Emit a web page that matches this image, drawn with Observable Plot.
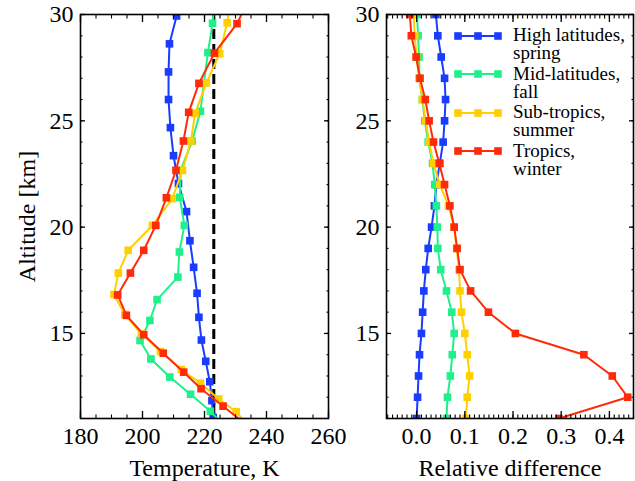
<!DOCTYPE html>
<html><head><meta charset="utf-8">
<script src="https://cdn.jsdelivr.net/npm/d3@7"></script>
<script src="https://cdn.jsdelivr.net/npm/@observablehq/plot@0.6"></script>
<style>
body{margin:0;background:#fff;}
#wrap{position:relative;width:635px;height:481px;font-family:"Liberation Serif","Times New Roman",serif;overflow:hidden;}
#left{position:absolute;left:0;top:0;}
#right{position:absolute;left:335px;top:0;}
#legend{position:absolute;left:454px;top:26px;}
.row{position:relative;height:38.5px;width:180px;}
.row svg{position:absolute;left:0;top:3.5px;}
.row .lab{position:absolute;left:59px;top:0;font-size:19px;line-height:18px;white-space:nowrap;color:#000;}
</style></head>
<body><div id="wrap"><div id="left"></div><div id="right"></div><div id="legend"></div></div>
<script>
// ---- series meta ----
const seriesNames = ["High latitudes, spring", "Mid-latitudes, fall", "Sub-tropics, summer", "Tropics, winter"];
const legendLine1 = ["High latitudes,", "Mid-latitudes,", "Sub-tropics,", "Tropics,"];
const legendLine2 = ["spring", "fall", "summer", "winter"];
const seriesColors = ["#1a3cff", "#1ff08c", "#ffcf00", "#ff2a0a"];

// ---- left panel: temperature profiles (altitude km, temperature K) ----
const altHigh = [31.2, 29.93, 28.62, 27.30, 26.0, 24.68, 23.36, 22.05, 20.73, 19.36, 18.11, 16.89, 15.76, 14.69, 13.69, 12.73, 11.84, 11.05];
const tempHigh = [213.3, 211.0, 208.7, 208.4, 208.4, 209.0, 210.0, 211.6, 214.2, 215.3, 216.5, 217.6, 218.2, 219.0, 220.4, 221.7, 222.4, 222.8];
const altMid = [30.9, 29.59, 28.21, 26.78, 25.45, 24.05, 22.67, 21.40, 20.08, 18.83, 17.65, 16.59, 15.61, 14.67, 13.80, 12.95, 12.14, 11.34, 10.5];
const tempMid = [223.4, 222.6, 221.1, 219.8, 218.7, 216.0, 212.3, 212.0, 213.5, 211.9, 211.4, 204.7, 202.4, 199.2, 202.7, 208.8, 215.5, 221.9, 227.2];
const altSub = [30.9, 29.61, 28.16, 26.78, 25.35, 24.05, 22.67, 21.34, 20.08, 18.91, 17.84, 16.83, 15.89, 14.98, 14.15, 13.30, 12.66, 11.92, 11.32, 10.5];
const tempSub = [228.9, 227.3, 224.9, 220.6, 217.0, 215.6, 212.9, 209.6, 203.2, 195.4, 192.2, 190.8, 194.3, 199.6, 205.8, 212.5, 218.7, 224.6, 230.2, 235.0];
const altTrop = [30.9, 29.57, 28.18, 26.76, 25.40, 24.05, 22.67, 21.38, 20.08, 18.91, 17.84, 16.81, 15.85, 14.94, 14.07, 13.18, 12.40, 11.58, 10.3];
const tempTrop = [234.9, 230.5, 223.2, 218.2, 214.9, 213.2, 210.8, 207.7, 204.3, 200.4, 196.1, 192.0, 194.8, 200.4, 206.7, 213.3, 218.9, 226.0, 237.0];
const refTemp = [223.0];

// ---- right panel: relative difference at integer altitudes ----
const relAlt = [30, 29, 28, 27, 26, 25, 24, 23, 22, 21, 20, 19, 18, 17, 16, 15, 14, 13, 12, 11];
const relHigh = [0.040, 0.044, 0.051, 0.058, 0.060, 0.058, 0.055, 0.048, 0.041, 0.037, 0.031, 0.024, 0.019, 0.015, 0.0125, 0.010, 0.006, 0.004, 0.002, 0.000];
const relMid = [0.001, 0.003, 0.005, 0.006, 0.012, 0.017, 0.024, 0.033, 0.0375, 0.041, 0.043, 0.044, 0.050, 0.062, 0.073, 0.078, 0.074, 0.070, 0.064, 0.062];
const relSub = [-0.006, -0.004, 0.000, 0.005, 0.012, 0.019, 0.026, 0.035, 0.048, 0.066, 0.078, 0.083, 0.088, 0.090, 0.093, 0.100, 0.105, 0.110, 0.105, 0.102];
const relTrop = [-0.014, -0.011, -0.001, 0.007, 0.018, 0.026, 0.035, 0.047, 0.058, 0.069, 0.078, 0.084, 0.090, 0.112, 0.149, 0.205, 0.347, 0.406, 0.438, 0.295];

// ---- axes ----
const tempTicks = [180, 200, 220, 240, 260];
const tempMinor = d3.range(180, 261, 5);
const relTicks = [0, 0.1, 0.2, 0.3, 0.4];
const relMinor = d3.range(-6, 46).map(i => i / 100);
const altTicks = [15, 20, 25, 30];
const altMinor = d3.range(11, 31);

const tempSeries = [[altHigh, tempHigh], [altMid, tempMid], [altSub, tempSub], [altTrop, tempTrop]];
const relSeries = [relHigh, relMid, relSub, relTrop];

const tempData = tempSeries.flatMap(([a, t], i) => a.map((alt, j) => ({s: i, alt, v: t[j]})));
const relData = relSeries.flatMap((vals, i) => relAlt.map((alt, j) => ({s: i, alt, v: vals[j]})));

const FONT = "'Liberation Serif', 'Times New Roman', serif";

function boxAxes(xMajor, xMinor, yMajor, yMinor, xFmt, xLabel, yLabel) {
  const m = [];
  const xl = 7, xs = 3.5, yl = 5, ys = 2.5;
  m.push(Plot.axisX(xMajor, {anchor: "bottom", tickSize: xl, dy: -xl, tickFormat: () => "", label: null, strokeWidth: 1.3}));
  m.push(Plot.axisX(xMinor, {anchor: "bottom", tickSize: xs, dy: -xs, tickFormat: () => "", label: null, strokeWidth: 1.1}));
  m.push(Plot.axisX(xMajor, {anchor: "top", tickSize: xl, dy: xl, tickFormat: () => "", label: null, strokeWidth: 1.3}));
  m.push(Plot.axisX(xMinor, {anchor: "top", tickSize: xs, dy: xs, tickFormat: () => "", label: null, strokeWidth: 1.1}));
  m.push(Plot.axisY(yMajor, {anchor: "left", tickSize: yl, dx: yl, tickFormat: () => "", label: null, strokeWidth: 1.3}));
  m.push(Plot.axisY(yMinor, {anchor: "left", tickSize: ys, dx: ys, tickFormat: () => "", label: null, strokeWidth: 1.1}));
  m.push(Plot.axisY(yMajor, {anchor: "right", tickSize: yl, dx: -yl, tickFormat: () => "", label: null, strokeWidth: 1.3}));
  m.push(Plot.axisY(yMinor, {anchor: "right", tickSize: ys, dx: -ys, tickFormat: () => "", label: null, strokeWidth: 1.1}));
  m.push(Plot.axisX(xMajor, {anchor: "bottom", tickSize: 0, tickPadding: 8, tickFormat: xFmt, label: xLabel, labelAnchor: "center", labelArrow: "none", labelOffset: 57, fontSize: 24}));
  m.push(Plot.axisY(yMajor, {anchor: "left", tickSize: 0, tickPadding: 7, label: yLabel, labelAnchor: "center", labelArrow: "none", labelOffset: 63, fontSize: 24}));
  m.push(Plot.frame({stroke: "#000", strokeWidth: 1.6}));
  return m;
}

function seriesMarks(data) {
  const m = [];
  for (let i = 0; i < 4; i++) {
    const d = data.filter(r => r.s === i);
    m.push(Plot.line(d, {x: "v", y: "alt", stroke: seriesColors[i], strokeWidth: 2, clip: true}));
    m.push(Plot.dot(d.filter(r => r.alt >= 10.95 && r.alt <= 30.05), {x: "v", y: "alt", symbol: "square", r: 4.3, fill: seriesColors[i], stroke: "none", clip: true}));
  }
  return m;
}

const left = Plot.plot({
  width: 335, height: 481,
  marginLeft: 80, marginRight: 7, marginTop: 14, marginBottom: 63,
  x: {domain: [180, 260]},
  y: {domain: [11, 30]},
  style: {fontFamily: FONT, fontSize: "24px", color: "#000", background: "transparent", overflow: "visible"},
  marks: [
    Plot.ruleX(refTemp, {stroke: "#000", strokeWidth: 3, strokeDasharray: "10,5"}),
    ...seriesMarks(tempData),
    ...boxAxes(tempTicks, tempMinor, altTicks, altMinor, d => String(d), "Temperature, K", "Altitude [km]")
  ]
});
document.getElementById("left").appendChild(left);

const right = Plot.plot({
  width: 300, height: 481,
  marginLeft: 51, marginRight: 2, marginTop: 14, marginBottom: 63,
  x: {domain: [-0.0625, 0.45]},
  y: {domain: [11, 30]},
  style: {fontFamily: FONT, fontSize: "24px", color: "#000", background: "transparent", overflow: "visible"},
  marks: [
    ...seriesMarks(relData),
    ...boxAxes(relTicks, relMinor, altTicks, altMinor, d => d.toFixed(1), "Relative difference", null)
  ]
});
document.getElementById("right").appendChild(right);

// legend
const leg = document.getElementById("legend");
seriesNames.forEach((name, i) => {
  const row = document.createElement("div");
  row.className = "row";
  const c = seriesColors[i];
  const sq = [4, 24, 44].map(x => `<rect x="${x - 3.8}" y="2.2" width="7.6" height="7.6" fill="${c}"/>`).join("");
  row.innerHTML = `<svg width="50" height="12"><line x1="4" y1="6" x2="44" y2="6" stroke="${c}" stroke-width="2"/>${sq}</svg>` +
    `<div class="lab">${legendLine1[i]}<br>${legendLine2[i]}</div>`;
  row.title = name;
  leg.appendChild(row);
});
</script></body></html>
